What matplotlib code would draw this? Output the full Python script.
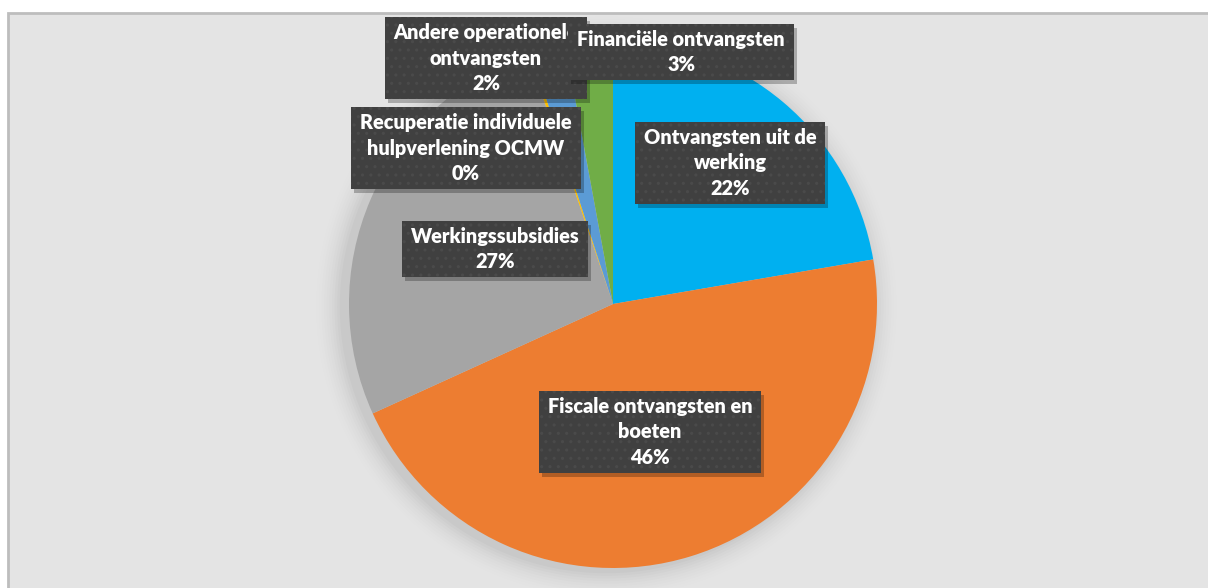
import numpy as np
import matplotlib.pyplot as plt
import matplotlib.transforms as mtransforms
from matplotlib.patches import Rectangle, Circle

# slice data, clockwise from 12 o'clock
labels = ['Ontvangsten uit de\nwerking', 'Fiscale ontvangsten en\nboeten', 'Werkingssubsidies',
          'Recuperatie individuele\nhulpverlening OCMW', 'Andere operationele\nontvangsten',
          'Financiële ontvangsten']
values = [22.3, 45.9, 26.6, 0.2, 2.1, 2.9]
colors = ['#00B0F0', '#ED7D31', '#A5A5A5', '#FFC000', '#5B9BD5', '#70AD47']
# label box centres in pixels (x, y from top)
label_px = [(730, 163), (650, 432), (495, 249), (466, 148), (486, 58), (681, 52)]
label_z = [5, 5, 5, 5, 5, 8]

W, H = 1208, 588
cx, cy, r = 613, 304, 264

plt.rcParams['hatch.linewidth'] = 1.1

fig = plt.figure(figsize=(W / 100, H / 100), dpi=100)
fig.patch.set_facecolor('white')
fig.patches.append(Rectangle((8 / W, -0.1), 1.2, (H - 13) / H + 0.1, transform=fig.transFigure,
                             facecolor='#E4E4E4', edgecolor='#BDBDBD', linewidth=2, zorder=-5))

ax = fig.add_axes([(cx - r) / W, (H - cy - r) / H, 2 * r / W, 2 * r / H])

# soft shadow around pie
for i, a in enumerate(np.linspace(0.018, 0.003, 10)):
    ax.add_patch(Circle((-0.025, -0.01), 1.0 + 0.01 * (i + 1), facecolor='black', alpha=a,
                        edgecolor='none', zorder=0, clip_on=False))

ax.pie(values, colors=colors, startangle=90, counterclock=False, radius=1,
       wedgeprops=dict(linewidth=0))
ax.set_xlim(-1, 1)
ax.set_ylim(-1, 1)
ax.axis('off')

font = ['Lato', 'DejaVu Sans']
texts = []
for lab, v, (px, py), z in zip(labels, values, label_px, label_z):
    x = (px - cx) / r
    y = (cy - py) / r
    txt = f'{lab}\n{round(v):d}%'
    t = ax.text(x, y, txt, ha='center', va='center', fontsize=14.3, fontweight='heavy',
                family=font, color='white', zorder=z + 0.5, linespacing=1.4, clip_on=False)
    texts.append((t, z))

# label boxes with drop shadow, sized around the text
fig.canvas.draw()
ident = mtransforms.IdentityTransform()
padx, pady = 9, 6
for t, z in texts:
    bb = t.get_window_extent()
    x0, y0 = bb.x0 - padx, bb.y0 - pady
    w, h = bb.width + 2 * padx, bb.height + 2 * pady
    ax.add_patch(Rectangle((x0 + 3, y0 - 4), w, h, transform=ident, facecolor='black',
                           alpha=0.25, edgecolor='none', zorder=z - 0.5, clip_on=False))
    ax.add_patch(Rectangle((x0, y0), w, h, transform=ident, facecolor='#404040',
                           edgecolor='#4A4A4A', hatch='..', linewidth=0, zorder=z,
                           clip_on=False))

fig.savefig('out.png', dpi=100)
